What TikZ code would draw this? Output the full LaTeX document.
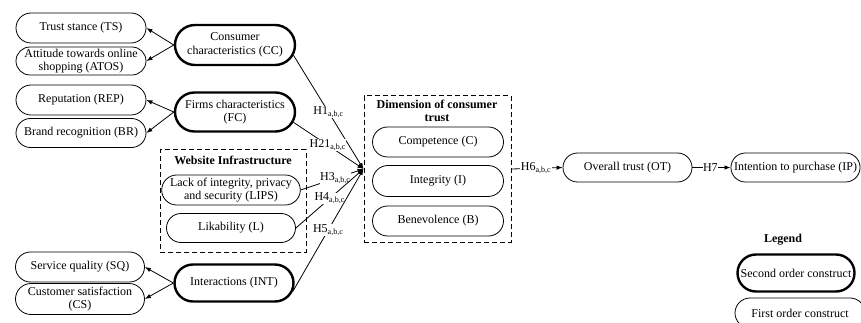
\documentclass[tikz,border=0pt]{standalone}
\usepackage{fontspec}
\setmainfont{Liberation Serif}
\usetikzlibrary{shapes.misc,arrows.meta}
\begin{document}
\begin{tikzpicture}[x=1pt,y=-1pt,
  construct/.style={rounded rectangle, draw, line width=0.8pt, align=center,
    inner xsep=2pt, inner ysep=1pt, font=\fontsize{12}{13.5}\selectfont},
  second/.style={construct, line width=2.4pt},
  group/.style={draw, dash pattern=on 5pt off 3pt, line width=1pt, inner sep=0pt},
  link/.style={line width=0.8pt, -{Latex[length=6pt,width=4.5pt]}},
  hyp/.style={font=\fontsize{12}{12}\selectfont, fill=white, inner sep=0.5pt},
  heading/.style={font=\fontsize{12}{12.5}\selectfont\bfseries, align=center}]
\useasboundingbox (0,0) rectangle (861,323);
\fill[white] (0,0) rectangle (861,323);

% dashed groupings
\node[group, minimum width=146pt, minimum height=102pt] (web) at (233,201) {};
\node[heading] (webT) at (233,160) {Website Infrastructure};
\node[group, minimum width=147pt, minimum height=146pt] (dim) at (437.5,169) {};
\node[heading] (dimT) at (437,111) {Dimension of consumer\\trust};

% first order constructs on the left
\node[construct, minimum width=134pt, minimum height=30pt] (TS) at (81,28) {Trust stance (TS)};
\node[construct, minimum width=134pt, minimum height=28pt] (ATOS) at (81,61) {Attitude towards online\\shopping (ATOS)};
\node[construct, minimum width=134pt, minimum height=30pt] (REP) at (81,100) {Reputation (REP)};
\node[construct, minimum width=134pt, minimum height=29pt] (BR) at (81,133) {Brand recognition (BR)};
\node[construct, minimum width=133pt, minimum height=30pt] (SQ) at (80,267) {Service quality (SQ)};
\node[construct, minimum width=133pt, minimum height=31pt] (CS) at (80,299) {Customer satisfaction\\(CS)};

% second order constructs
\node[second, minimum width=124pt, minimum height=40pt] (CC) at (235,45) {Consumer\\characteristics (CC)};
\node[second, minimum width=124pt, minimum height=39pt] (FC) at (235,112) {Firms characteristics\\(FC)};
\node[second, minimum width=123pt, minimum height=37pt] (INT) at (234,283) {Interactions (INT)};

% website infrastructure
\node[construct, minimum width=133pt, minimum height=30pt] (LIPS) at (231,190) {Lack of integrity, privacy\\and security (LIPS)};
\node[construct, minimum width=133pt, minimum height=29pt] (L) at (231,228) {Likability (L)};

% dimensions of consumer trust
\node[construct, minimum width=135pt, minimum height=30pt] (C) at (438,142) {Competence (C)};
\node[construct, minimum width=135pt, minimum height=31pt] (I) at (438,181) {Integrity (I)};
\node[construct, minimum width=135pt, minimum height=30pt] (B) at (438,221) {Benevolence (B)};

% outcomes
\node[construct, minimum width=133pt, minimum height=29pt] (OT) at (627.5,167.5) {Overall trust (OT)};
\node[construct, minimum width=129pt, minimum height=29pt] (IP) at (795.5,167.5) {Intention to purchase (IP)};

% legend
\node[heading] (legT) at (783,240) {Legend};
\node[second, minimum width=121pt, minimum height=37pt] (SOC) at (796,273) {Second order construct};
\node[construct, minimum width=134pt, minimum height=30pt] (FOC) at (800,313) {First order construct};

% measurement links
\draw[link] (CC.west) -- (TS.east);
\draw[link] (CC.west) -- (ATOS.east);
\draw[link] (FC.west) -- (REP.east);
\draw[link] (FC.west) -- (BR.east);
\draw[link] (INT.west) -- (SQ.east);
\draw[link] (INT.west) -- (CS.east);

% hypotheses
\draw[link] (CC.-10) -- node[hyp, pos=0.5] {H1\textsubscript{a,b,c}} (dim.west);
\draw[link] (FC.-10) -- node[hyp, pos=0.49] {H21\textsubscript{a,b,c}} (dim.west);
\draw[link] (LIPS.east) -- node[hyp, pos=0.55] {H3\textsubscript{a,b,c}} (dim.west);
\draw[link] (L.east) -- node[hyp, pos=0.5] {H4\textsubscript{a,b,c}} (dim.west);
\draw[link] (INT.-8) -- node[hyp, pos=0.5] {H5\textsubscript{a,b,c}} (dim.west);
\draw[link] (dim.east) -- node[hyp, pos=0.48] {H6\textsubscript{a,b,c}} (OT.west);
\draw[link] (OT.east) -- node[hyp, pos=0.47] {H7} (IP.west);
\end{tikzpicture}
\end{document}
